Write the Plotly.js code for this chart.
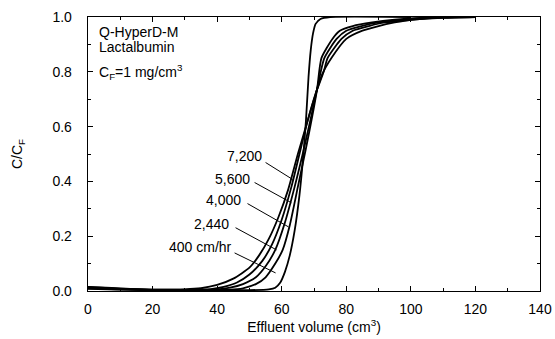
<!DOCTYPE html>
<html>
<head>
<meta charset="utf-8">
<script src="https://cdn.plot.ly/plotly-3.0.1.min.js"></script>
<style>
  html, body { margin: 0; padding: 0; background: #fff; }
  #chart { width: 555px; height: 339px; }
</style>
</head>
<body>
<div id="chart"></div>
<script>
// Breakthrough curves of lactalbumin on Q-HyperD-M at five linear velocities (cm/hr)
const vol400  = [0, 20, 50, 56, 58, 59.5, 61, 62.5, 64, 65.5, 66.5, 67.5, 68.3, 69, 69.7, 70.5, 72, 75, 100];
const c400    = [0.008, 0.003, 0.003, 0.006, 0.012, 0.03, 0.07, 0.13, 0.22, 0.35, 0.47, 0.62, 0.78, 0.88, 0.94, 0.975, 0.993, 1.0, 1.0];

const vol2440 = [0, 20, 44, 48, 52, 55, 58, 60.3, 62.5, 65, 67.5, 69.5, 71, 72.3, 75.7, 78, 82, 88, 95, 105, 115];
const c2440   = [0.01, 0.004, 0.005, 0.01, 0.025, 0.05, 0.1, 0.15, 0.24, 0.38, 0.52, 0.64, 0.74, 0.85, 0.92, 0.95, 0.967, 0.98, 0.99, 0.998, 1.0];

const vol4000 = [0, 20, 40, 44, 48, 52, 55, 58, 61, 64, 66.5, 69, 71, 73.2, 77, 80, 84.7, 90, 100, 110];
const c4000   = [0.012, 0.004, 0.006, 0.012, 0.025, 0.05, 0.09, 0.15, 0.25, 0.38, 0.5, 0.63, 0.74, 0.85, 0.92, 0.95, 0.967, 0.98, 0.993, 1.0];

const vol5600 = [0, 20, 38, 42, 46, 50, 54, 57, 60, 63, 65.5, 68, 70.5, 73, 74.2, 78.5, 82, 87, 92, 100, 110, 120];
const c5600   = [0.015, 0.005, 0.007, 0.015, 0.03, 0.06, 0.11, 0.17, 0.26, 0.38, 0.5, 0.62, 0.72, 0.8, 0.85, 0.92, 0.95, 0.967, 0.98, 0.99, 0.998, 1.0];

const vol7200 = [0, 10, 20, 30, 35, 40, 45, 50, 53, 56, 59, 62, 65, 67.5, 70, 72.5, 75.4, 80, 85, 90, 95, 100, 110, 120];
const c7200   = [0.015, 0.008, 0.005, 0.006, 0.01, 0.022, 0.045, 0.085, 0.13, 0.19, 0.27, 0.37, 0.5, 0.6, 0.7, 0.79, 0.85, 0.92, 0.95, 0.967, 0.98, 0.99, 0.997, 1.0];

const series = [
  { x: vol400,  y: c400 },
  { x: vol2440, y: c2440 },
  { x: vol4000, y: c4000 },
  { x: vol5600, y: c5600 },
  { x: vol7200, y: c7200 }
];

// Curve labels with leader lines: text anchor, leader start, leader end (data units)
const labelText = ['7,200', '5,600', '4,000', '2,440', '400 cm/hr'];
const labelX    = [54.4, 50.7, 47.9, 44.2, 45.1];
const labelY    = [0.491, 0.410, 0.333, 0.245, 0.161];
const leadX0    = [55.0, 51.6, 49.4, 45.7, 45.4];
const leadY0    = [0.469, 0.396, 0.319, 0.231, 0.139];
const leadX1    = [63.4, 63.0, 62.1, 58.4, 58.1];
const leadY1    = [0.407, 0.322, 0.234, 0.150, 0.066];

const FONT = 'Liberation Sans, Arial, Helvetica, sans-serif';

const traces = series.map(s => ({
  x: s.x, y: s.y, type: 'scatter', mode: 'lines',
  line: { color: '#000', width: 1.8, shape: 'spline', smoothing: 0.6 },
  hoverinfo: 'skip', showlegend: false
}));

const shapes = labelText.map((_, i) => ({
  type: 'line', xref: 'x', yref: 'y',
  x0: leadX0[i], y0: leadY0[i], x1: leadX1[i], y1: leadY1[i],
  line: { color: '#000', width: 1 }
}));

const annotations = labelText.map((t, i) => ({
  x: labelX[i], y: labelY[i], xref: 'x', yref: 'y',
  text: t, showarrow: false, xanchor: 'right', yanchor: 'middle',
  font: { family: FONT, size: 14, color: '#000' }
}));

const infoLines = ['Q-HyperD-M', 'Lactalbumin', 'C<sub>F</sub>=1 mg/cm<sup>3</sup>'];
const infoY = [0.945, 0.89, 0.80];
infoLines.forEach((t, i) => annotations.push({
  x: 0.02, y: infoY[i], xref: 'paper', yref: 'paper',
  text: t, showarrow: false, xanchor: 'left', yanchor: 'middle',
  font: { family: FONT, size: 14, color: '#000' }
}));

const layout = {
  width: 555, height: 339,
  margin: { l: 88, r: 15, t: 17, b: 48 },
  paper_bgcolor: '#fff', plot_bgcolor: '#fff',
  font: { family: FONT, size: 14, color: '#000' },
  xaxis: {
    range: [0, 140], dtick: 20, tick0: 0,
    ticks: 'inside', ticklen: 5, tickwidth: 1, tickcolor: '#000',
    minor: { dtick: 10, ticks: 'inside', ticklen: 3, tickcolor: '#000' },
    showline: true, linecolor: '#000', linewidth: 1.3, mirror: 'ticks',
    showgrid: false, zeroline: false, ticklabelstandoff: 5,
    tickfont: { family: FONT, size: 14 },
    title: { text: 'Effluent volume (cm<sup>3</sup>)', standoff: 3, font: { family: FONT, size: 14 } }
  },
  yaxis: {
    range: [0, 1], dtick: 0.2, tick0: 0, tickformat: '.1f',
    ticks: 'inside', ticklen: 5, tickwidth: 1, tickcolor: '#000',
    minor: { dtick: 0.1, ticks: 'inside', ticklen: 3, tickcolor: '#000' },
    showline: true, linecolor: '#000', linewidth: 1.3, mirror: 'ticks',
    showgrid: false, zeroline: false, ticklabelstandoff: 12,
    tickfont: { family: FONT, size: 14 },
    title: { text: 'C/C<sub>F</sub>', standoff: 26, font: { family: FONT, size: 14 } }
  },
  shapes: shapes,
  annotations: annotations
};

Plotly.newPlot('chart', traces, layout, { staticPlot: true, displayModeBar: false });
</script>
</body>
</html>
